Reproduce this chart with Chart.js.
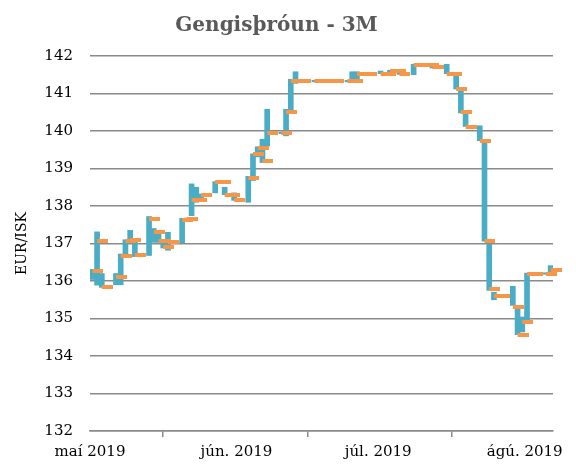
<!DOCTYPE html>
<html lang="is">
<head>
<meta charset="utf-8">
<title>Gengisþróun - 3M</title>
<script src="https://cdn.jsdelivr.net/npm/chart.js@4.4.1/dist/chart.umd.min.js"></script>
<style>
    html, body { margin: 0; padding: 0; background: #ffffff; }
    #wrap { width: 576px; height: 464px; }
</style>
</head>
<body>
<div id="wrap"><canvas id="gengiChart" width="576" height="464"></canvas></div>
<script>
// ========================================
// DATA (days counted from 1 May 2019)
// ========================================

const days = [0, 1, 2, 5, 6, 7, 8, 9, 12, 13, 14, 15, 16, 19, 20, 21, 22, 23, 26, 27, 28, 29, 30,
    33, 34, 35, 36, 37, 40, 41, 42, 43, 44, 47, 48, 49, 50, 51, 54, 55, 56, 57, 58,
    61, 62, 63, 64, 65, 68, 69, 70, 71, 72, 75, 76, 77, 78, 79, 82, 83, 84, 85, 86,
    89, 90, 91, 92, 93, 96, 97];

const lowValues = [136.04, 135.89, 135.83, 135.90, 135.90, 136.70, 137.00, 136.65, 136.68, 137.03, 137.03, 136.88, 136.82, 137.02, 137.60, 137.74, 138.10, 138.15, 138.35, 138.60, 138.30, 138.28, 138.15,
    138.10, 138.68, 139.31, 139.16, 139.60, 139.93, 139.87, 140.49, 141.27, 141.31, 141.31, 141.31, 141.31, 141.31, 141.31, 141.31, 141.31, 141.33, 141.51, 141.51,
    141.53, 141.51, 141.53, 141.58, 141.51, 141.50, 141.73, 141.73, 141.73, 141.68, 141.53, 141.51, 141.12, 140.48, 140.12, 139.74, 137.06, 135.75, 135.50, 135.58,
    135.35, 134.57, 134.64, 134.91, 136.18, 136.18, 136.23];

const highValues = [136.31, 137.31, 136.20, 136.20, 136.72, 137.10, 137.35, 137.05, 137.72, 137.40, 137.26, 137.08, 137.30, 137.67, 137.68, 138.59, 138.50, 138.32, 138.65, 138.66, 138.50, 138.32, 138.35,
    138.79, 139.39, 139.58, 139.78, 140.58, 139.97, 140.58, 141.38, 141.58, 141.35, 141.35, 141.35, 141.35, 141.35, 141.35, 141.35, 141.58, 141.58, 141.55, 141.55,
    141.60, 141.55, 141.62, 141.62, 141.60, 141.78, 141.77, 141.77, 141.77, 141.75, 141.78, 141.55, 141.48, 141.08, 140.47, 140.14, 139.70, 136.99, 135.70, 135.62,
    135.86, 135.30, 135.04, 136.21, 136.22, 136.22, 136.41];

const closeValues = [136.27, 137.07, 135.85, 136.12, 136.68, 137.07, 137.10, 136.70, 137.65, 137.31, 137.08, 136.90, 137.05, 137.63, 137.65, 138.15, 138.15, 138.30, 138.63, 138.63, 138.30, 138.30, 138.15,
    138.74, 139.38, 139.55, 139.20, 139.95, 139.95, 140.50, 141.33, 141.33, 141.33, 141.33, 141.33, 141.33, 141.33, 141.33, 141.33, 141.33, 141.53, 141.53, 141.53,
    141.53, 141.53, 141.60, 141.60, 141.53, 141.75, 141.75, 141.75, 141.75, 141.70, 141.53, 141.53, 141.13, 140.50, 140.10, 139.73, 137.07, 135.80, 135.60, 135.60,
    135.30, 134.56, 134.92, 136.20, 136.20, 136.20, 136.30];

// month boundaries (midnight before the 1st)
const monthTicks = [-0.5, 30.5, 60.5, 91.5];
const monthLabels = ['maí 2019', 'jún. 2019', 'júl. 2019', 'ágú. 2019'];

// ========================================
// STYLE
// ========================================

const BLUE = '#4BACC6';
const ORANGE = '#F79646';
const GRID = '#8a8a8a';
const SERIF = "'DejaVu Serif', serif";

// close marker: dash on the right half so it starts at the bar
const makeDash = () => {
    const c = document.createElement('canvas');
    c.width = 22;
    c.height = 4;
    const g = c.getContext('2d');
    g.fillStyle = ORANGE;
    g.fillRect(11, 0, 11, 4);
    return c;
};

// ========================================
// CHART
// ========================================

const ctx = document.getElementById('gengiChart').getContext('2d');

const rangeData = days.map((d, i) => ({ x: d, y: [lowValues[i], highValues[i]] }));
const closeData = days.map((d, i) => ({ x: d, y: closeValues[i] }));

new Chart(ctx, {
    type: 'bar',
    data: {
        datasets: [
            {
                type: 'line',
                label: 'Lokagengi',
                data: closeData,
                showLine: false,
                pointStyle: makeDash(),
                pointRadius: 5,
                borderWidth: 0,
                clip: false,
                order: 1
            },
            {
                type: 'bar',
                label: 'Hæst/lægst',
                data: rangeData,
                backgroundColor: BLUE,
                borderWidth: 0,
                barThickness: 5,
                order: 2
            }
        ]
    },
    options: {
        responsive: false,
        devicePixelRatio: 1,
        animation: false,
        layout: { padding: { left: 0, right: 23, top: 0, bottom: 0 } },
        plugins: {
            legend: { display: false },
            tooltip: { enabled: false },
            title: {
                display: true,
                text: 'Gengisþróun - 3M',
                color: '#595959',
                font: { family: SERIF, size: 20, weight: 'bold', lineHeight: 1.2 },
                padding: { top: 14, bottom: 18 }
            }
        },
        scales: {
            x: {
                type: 'linear',
                min: -0.5,
                max: 97.5,
                offset: false,
                afterBuildTicks: (scale) => {
                    scale.ticks = monthTicks.map(v => ({ value: v }));
                },
                afterFit: (scale) => { scale.height = 33; },
                ticks: {
                    autoSkip: false,
                    maxRotation: 0,
                    padding: 6,
                    color: '#000000',
                    font: { family: SERIF, size: 15 },
                    callback: (value, index) => monthLabels[index]
                },
                grid: {
                    drawOnChartArea: false,
                    drawTicks: true,
                    tickLength: 6,
                    color: GRID,
                    lineWidth: 1.5
                },
                border: { display: true, color: GRID, width: 1.5 }
            },
            y: {
                min: 132,
                max: 142,
                afterFit: (scale) => { scale.width = 90; },
                ticks: {
                    stepSize: 1,
                    padding: 17,
                    color: '#000000',
                    font: { family: SERIF, size: 15 }
                },
                grid: {
                    drawTicks: false,
                    color: GRID,
                    lineWidth: 1.5
                },
                border: { display: false },
                title: {
                    display: true,
                    text: 'EUR/ISK',
                    color: '#000000',
                    font: { family: SERIF, size: 14 },
                    padding: { top: 14, bottom: 0 }
                }
            }
        }
    }
});
</script>
</body>
</html>
